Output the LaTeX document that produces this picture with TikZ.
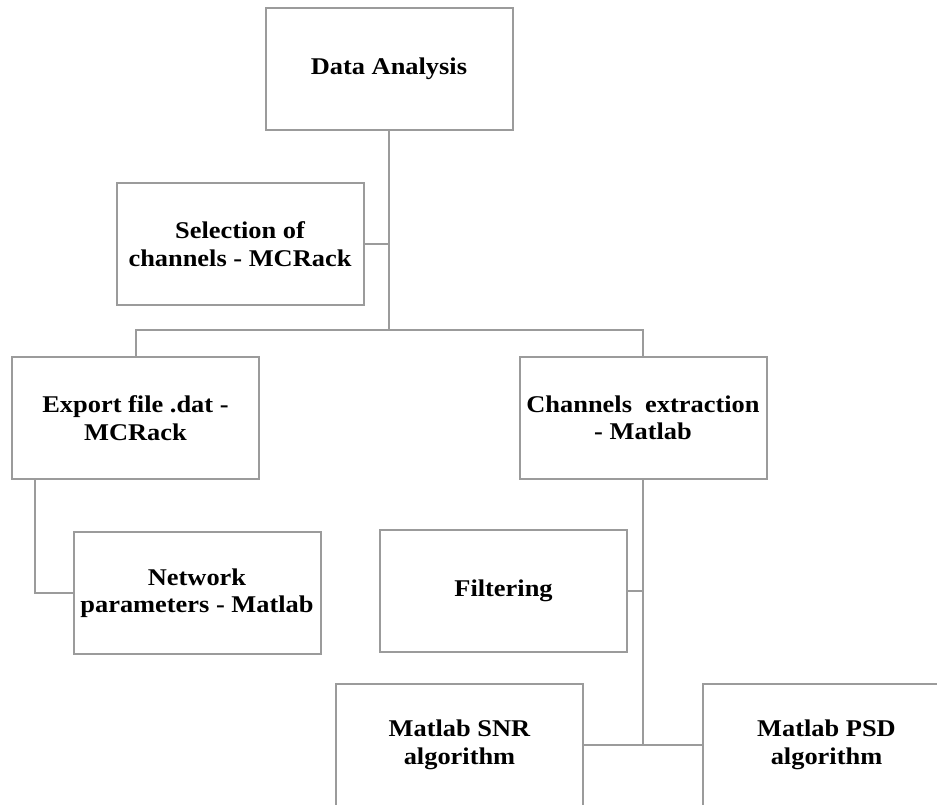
\documentclass[tikz,border=0pt]{standalone}
\usepackage{fontspec}
\setmainfont{Liberation Serif}[FakeStretch=1.1]
\usetikzlibrary{positioning}
\definecolor{linegray}{RGB}{155,155,155}
\begin{document}
\begin{tikzpicture}[x=1pt, y=-1pt,
    box/.style={draw=linegray, line width=2pt, minimum width=247pt, minimum height=122pt,
      inner sep=0pt, align=center, font=\fontsize{24}{27.5}\selectfont\bfseries},
    conn/.style={draw=linegray, line width=2pt}]
  \useasboundingbox (0,0) rectangle (937,805);
  \clip (0,0) rectangle (937,805);
  % top level
  \node[box] (data) at (389,69) {Data Analysis};
  \node[box] (select) at (240,244) {Selection of\\channels - MCRack};
  \coordinate (split) at (389,330);
  % left branch
  \node[box] (export) at (135.5,418) {Export file .dat -\\MCRack};
  \node[box] (net) at (197,593) {Network\\parameters - Matlab};
  % right branch
  \node[box] (chan) at (643,418) {Channels\ \ extraction\\- Matlab};
  \node[box] (filt) at (503.5,591) {Filtering};
  \node[box] (snr) at (459.5,745) {Matlab SNR\\algorithm};
  \node[box] (psd) at (826.5,745) {Matlab PSD\\algorithm};
  % connectors
  \draw[conn] (data.south) -- (split);
  \draw[conn] (select.east) -- (select.east -| split);
  \draw[conn] (export.north) |- (split) -| (chan.north);
  \coordinate (expout) at ([xshift=24pt]export.south west);
  \draw[conn] (expout) |- (net.west);
  \draw[conn] (chan.south) -- (chan.south |- snr.east);
  \draw[conn] (filt.east) -- (filt.east -| chan.south);
  \draw[conn] (snr.east) -- (psd.west);
\end{tikzpicture}
\end{document}
